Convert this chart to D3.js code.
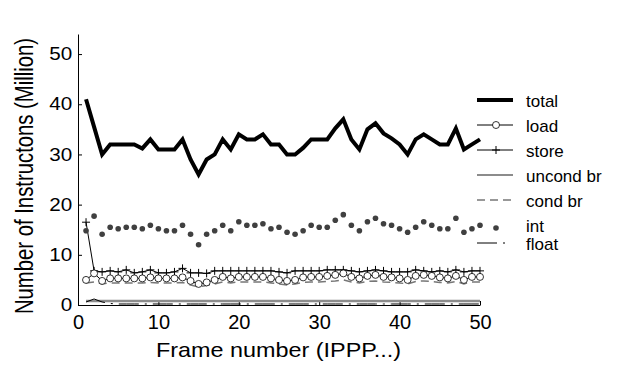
<!DOCTYPE html>
<html>
<head>
<meta charset="utf-8">
<script src="https://cdn.jsdelivr.net/npm/d3@7"></script>
<style>
  body { margin: 0; background: #fff; }
  svg text { font-family: "Liberation Sans", Arial, sans-serif; fill: #000; }
</style>
</head>
<body>
<div id="chart"></div>
<script>
// data (frames 1..50)
const frames = d3.range(1, 51);
const total = [41, 35.5, 30, 32, 32, 32, 32, 31.2, 33, 31, 31, 31, 33, 29, 26, 29, 30, 33, 31, 34,
  33, 33, 34, 32, 32, 30, 30, 31.3, 33, 33, 33, 35.2, 37, 33, 31, 35, 36.2, 34.2, 33.2, 32,
  30, 33, 34, 33, 32, 32, 35.2, 31, 32, 33];
const load = [5.0, 6.3, 4.8, 5.3, 5.3, 5.3, 5.3, 5.3, 5.5, 5.3, 5.3, 5.3, 5.5, 4.8, 4.2, 4.5, 5.0, 5.6, 5.3, 5.6,
  5.6, 5.6, 5.6, 5.3, 5.0, 4.8, 5.0, 5.5, 5.6, 5.6, 5.8, 6.0, 6.3, 5.6, 5.3, 5.8, 6.0, 5.6, 5.5, 5.3,
  5.0, 5.8, 6.0, 5.8, 5.5, 5.3, 5.8, 5.0, 5.6, 5.6];
const store = [16.5, 6.8, 6.6, 6.8, 6.6, 7.0, 6.4, 6.6, 7.0, 6.4, 6.4, 6.6, 7.3, 6.4, 6.4, 6.3, 6.8, 6.8, 6.8, 6.8,
  6.8, 6.8, 6.8, 6.8, 6.6, 6.4, 6.8, 6.8, 6.8, 6.8, 7.0, 7.0, 7.0, 6.8, 6.6, 6.8, 7.0, 6.8, 6.6, 6.6,
  6.6, 7.0, 6.8, 6.6, 6.8, 6.6, 7.0, 6.6, 6.8, 6.8];
const uncondBr = [0.8, 0.8, 0.8, 0.8, 0.8, 0.8, 0.8, 0.8, 0.8, 0.8, 0.8, 0.8, 0.8, 0.8, 0.8, 0.8, 0.8, 0.8, 0.8, 0.8,
  0.8, 0.8, 0.8, 0.8, 0.8, 0.8, 0.8, 0.8, 0.8, 0.8, 0.8, 0.8, 0.8, 0.8, 0.8, 0.8, 0.8, 0.8, 0.8, 0.8,
  0.8, 0.8, 0.8, 0.8, 0.8, 0.8, 0.8, 0.8, 0.8, 0.8];
const condBr = [4.4, 4.6, 4.2, 4.4, 4.4, 4.4, 4.4, 4.4, 4.5, 4.4, 4.4, 4.4, 4.5, 4.0, 3.6, 3.9, 4.2, 4.6, 4.4, 4.6,
  4.6, 4.6, 4.6, 4.4, 4.2, 4.0, 4.2, 4.5, 4.6, 4.6, 4.7, 4.8, 5.0, 4.6, 4.4, 4.7, 4.8, 4.6, 4.5, 4.4,
  4.2, 4.7, 4.8, 4.7, 4.5, 4.4, 4.7, 4.2, 4.6, 4.6];
const intOps = [14.8, 17.7, 14.1, 15.5, 15.2, 15.5, 15.5, 15.2, 15.9, 15.2, 14.8, 14.8, 15.9, 14.1, 12.0, 14.1, 14.8, 15.9, 14.8, 16.6,
  15.9, 15.9, 16.2, 15.2, 15.5, 14.5, 14.1, 14.8, 15.9, 15.5, 15.5, 16.9, 18.0, 15.9, 14.8, 16.6, 17.3, 16.2, 15.9, 15.2,
  14.5, 15.5, 16.6, 15.9, 15.2, 15.2, 17.3, 14.5, 15.2, 15.9];
const float = [0.6, 1.2, 0.6, 0.3, 0.2, 0.2, 0.2, 0.2, 0.2, 0.2, 0.2, 0.2, 0.2, 0.2, 0.2, 0.2, 0.2, 0.2, 0.2, 0.2,
  0.2, 0.2, 0.2, 0.2, 0.2, 0.2, 0.2, 0.2, 0.2, 0.2, 0.2, 0.2, 0.2, 0.2, 0.2, 0.2, 0.2, 0.2, 0.2, 0.2,
  0.2, 0.2, 0.2, 0.2, 0.2, 0.2, 0.2, 0.2, 0.2, 0.2];

const xTicks = [0, 10, 20, 30, 40, 50];
const yTicks = [0, 10, 20, 30, 40, 50];
const legendNames = ["total", "load", "store", "uncond br", "cond br", "int", "float"];

const width = 617, height = 365;
const margin = { top: 34, right: 137, bottom: 60, left: 78 };
const boundW = width - margin.left - margin.right;
const boundH = height - margin.top - margin.bottom;

const svg = d3.select("#chart").append("svg")
  .attr("width", width)
  .attr("height", height);

const bounds = svg.append("g")
  .attr("transform", `translate(${margin.left},${margin.top})`);

const xScale = d3.scaleLinear().domain([0, 50]).range([0, boundW]);
const yScale = d3.scaleLinear().domain([0, 54]).range([boundH, 0]);

// axes (ticks point inward)
const xAxis = bounds.append("g")
  .attr("transform", `translate(0,${boundH})`)
  .call(d3.axisBottom(xScale).tickValues(xTicks).tickSizeInner(-4).tickSizeOuter(0).tickPadding(10));
xAxis.selectAll("text").style("font-size", "20px");

const yAxis = bounds.append("g")
  .call(d3.axisLeft(yScale).tickValues(yTicks).tickSizeInner(-4).tickSizeOuter(0).tickPadding(5));
yAxis.selectAll("text").style("font-size", "17.5px").attr("transform", "scale(1.18,1)");

[xAxis, yAxis].forEach(a => {
  a.selectAll("text").attr("fill", "#000");
  a.selectAll("path, line").attr("stroke", "#000");
});

// lines
const lineFor = vals => d3.line()
  .x((d, i) => xScale(frames[i]))
  .y(d => yScale(d))(vals);

bounds.append("path").attr("d", lineFor(uncondBr))
  .attr("fill", "none").attr("stroke", "#8c8c8c").attr("stroke-width", 2.5);
bounds.append("path").attr("d", lineFor(float))
  .attr("fill", "none").attr("stroke", "#000").attr("stroke-width", 1)
  .attr("stroke-dasharray", "20,6,2,6");
bounds.append("path").attr("d", lineFor(condBr))
  .attr("fill", "none").attr("stroke", "#777").attr("stroke-width", 1.5)
  .attr("stroke-dasharray", "8,5");

bounds.append("path").attr("d", lineFor(store))
  .attr("fill", "none").attr("stroke", "#000").attr("stroke-width", 1);
bounds.append("g").selectAll("path").data(store).join("path")
  .attr("d", (d, i) => {
    const x = xScale(frames[i]), y = yScale(d);
    return `M${x - 4},${y}H${x + 4}M${x},${y - 4}V${y + 4}`;
  })
  .attr("stroke", "#000").attr("stroke-width", 1);

bounds.append("path").attr("d", lineFor(load))
  .attr("fill", "none").attr("stroke", "#000").attr("stroke-width", 1);
bounds.append("g").selectAll("circle").data(load).join("circle")
  .attr("cx", (d, i) => xScale(frames[i]))
  .attr("cy", d => yScale(d))
  .attr("r", 3.5)
  .attr("fill", "#fff").attr("stroke", "#000").attr("stroke-width", 0.8);

bounds.append("g").selectAll("circle").data(intOps).join("circle")
  .attr("cx", (d, i) => xScale(frames[i]))
  .attr("cy", d => yScale(d))
  .attr("r", 2.8)
  .attr("fill", "#404040");

bounds.append("path").attr("d", lineFor(total))
  .attr("fill", "none").attr("stroke", "#000").attr("stroke-width", 4)
  .attr("stroke-linejoin", "miter");

// axis titles
svg.append("text")
  .attr("transform", "translate(278.5,357) scale(1.17,1)")
  .attr("text-anchor", "middle")
  .style("font-size", "20px")
  .text("Frame number (IPPP...)");
svg.append("text")
  .attr("transform", "translate(33,176) scale(1.3,1) rotate(-90)")
  .attr("text-anchor", "middle")
  .style("font-size", "20.3px")
  .text("Number of Instructons (Million)");

// legend
const legend = svg.append("g").attr("transform", "translate(477,100)");
const rows = legend.selectAll("g").data(legendNames).join("g")
  .attr("transform", (d, i) => `translate(0,${i < 6 ? i * 25 : 143})`);
rows.append("text").attr("x", 49).attr("y", 7).style("font-size", "17px").text(d => d);

rows.filter(d => d === "total").append("line")
  .attr("x1", 0).attr("x2", 36).attr("stroke", "#000").attr("stroke-width", 4);
rows.filter(d => d === "load" || d === "store").append("line")
  .attr("x1", 0).attr("x2", 36).attr("stroke", "#000").attr("stroke-width", 1);
rows.filter(d => d === "float").append("line")
  .attr("x1", 0).attr("x2", 36).attr("stroke", "#000").attr("stroke-width", 1)
  .attr("stroke-dasharray", "20,6,2,20");
rows.filter(d => d === "load").append("circle")
  .attr("cx", 19).attr("r", 3.5).attr("fill", "#fff").attr("stroke", "#000").attr("stroke-width", 0.8);
rows.filter(d => d === "store").append("path")
  .attr("d", "M15,0H23M19,-4V4").attr("stroke", "#000");
rows.filter(d => d === "uncond br").append("line")
  .attr("x1", 0).attr("x2", 36).attr("stroke", "#8c8c8c").attr("stroke-width", 2);
rows.filter(d => d === "cond br").append("line")
  .attr("x1", 0).attr("x2", 36).attr("stroke", "#777").attr("stroke-width", 1.5)
  .attr("stroke-dasharray", "8,5");
rows.filter(d => d === "int").append("circle")
  .attr("cx", 19).attr("cy", 3).attr("r", 2.8).attr("fill", "#404040");
</script>
</body>
</html>
